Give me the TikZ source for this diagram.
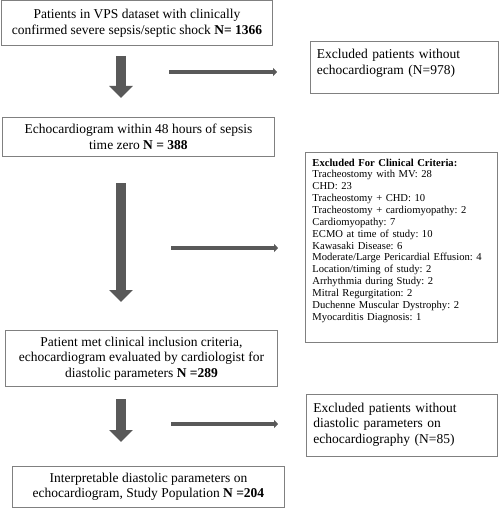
\documentclass[tikz,border=0pt]{standalone}
\usepackage{fontspec}
\setmainfont{Liberation Serif}
\usetikzlibrary{arrows.meta}
\frenchspacing

\definecolor{arrowgray}{HTML}{595959}
\definecolor{framegray}{HTML}{808080}

\newcommand{\lowpad}[1]{\rule[-#1]{0pt}{#1}}

\tikzset{
  box/.style={draw=framegray, line width=0.9pt, anchor=north west, inner xsep=6pt,
    font=\fontsize{13.5}{15.5}\selectfont},
  centerbox/.style={box, align=center},
  sidebox/.style={box, align=left},
  fat/.style={draw=arrowgray, line width=10pt, -{Triangle[width=23pt, length=12pt]}},
  thin/.style={draw=arrowgray, line width=3.6pt, -{Triangle[width=8pt, length=4pt]}}
}

\begin{document}
\begin{tikzpicture}[x=1pt, y=-1pt]

  \useasboundingbox (0,0) rectangle (500,508);

  \node[centerbox, minimum width=271, minimum height=45] (total) at (1,0.5)
    {Patients in VPS dataset with clinically\\confirmed severe sepsis/septic shock \textbf{N= 1366}};

  \node[sidebox, minimum width=188, minimum height=52, text width=175] (noecho) at (310,41)
    {Excluded patients without\\echocardiogram (N=978)\lowpad{11pt}};

  \node[centerbox, minimum width=272, minimum height=39] (echo) at (2,117)
    {Echocardiogram within 48 hours of sepsis\\time zero \textbf{N = 388}};

  \node[sidebox, minimum width=192, minimum height=190, text width=178, inner xsep=7pt,
    font=\fontsize{10.6}{11.85}\selectfont] (clinical) at (305,152)
    {\textbf{Excluded For Clinical Criteria:}\\
     Tracheostomy with MV: 28\\
     CHD: 23\\
     Tracheostomy + CHD: 10\\
     Tracheostomy + cardiomyopathy: 2\\
     Cardiomyopathy: 7\\
     ECMO at time of study: 10\\
     Kawasaki Disease: 6\\
     Moderate/Large Pericardial Effusion: 4\\
     Location/timing of study: 2\\
     Arrhythmia during Study: 2\\
     Mitral Regurgitation: 2\\
     Duchenne Muscular Dystrophy: 2\\
     Myocarditis Diagnosis: 1\lowpad{16pt}};

  \node[centerbox, minimum width=272, minimum height=56] (met) at (5,330)
    {Patient met clinical inclusion criteria,\\echocardiogram evaluated by cardiologist for\\diastolic parameters \textbf{N =289}};

  \node[sidebox, minimum width=191, minimum height=62, text width=177] (nodiast) at (306,394)
    {Excluded patients without\\diastolic parameters on\\echocardiography (N=85)\lowpad{5pt}};

  \node[centerbox, minimum width=272, minimum height=41] (study) at (12,466)
    {Interpretable diastolic parameters on\\echocardiogram, Study Population \textbf{N =204}};

  % arrow ends
  \coordinate (down1a) at (121,56);  \coordinate (down1b) at (121,98);
  \coordinate (down2a) at (121,183); \coordinate (down2b) at (121,302);
  \coordinate (down3a) at (121,399); \coordinate (down3b) at (121,442);
  \coordinate (side1a) at (169,72);  \coordinate (side1b) at (277,72);
  \coordinate (side2a) at (171,248); \coordinate (side2b) at (278,248);
  \coordinate (side3a) at (171,424); \coordinate (side3b) at (278,424);

  \draw[fat] (down1a) -- (down1b);
  \draw[fat] (down2a) -- (down2b);
  \draw[fat] (down3a) -- (down3b);

  \draw[thin] (side1a) -- (side1b);
  \draw[thin] (side2a) -- (side2b);
  \draw[thin] (side3a) -- (side3b);

\end{tikzpicture}
\end{document}
